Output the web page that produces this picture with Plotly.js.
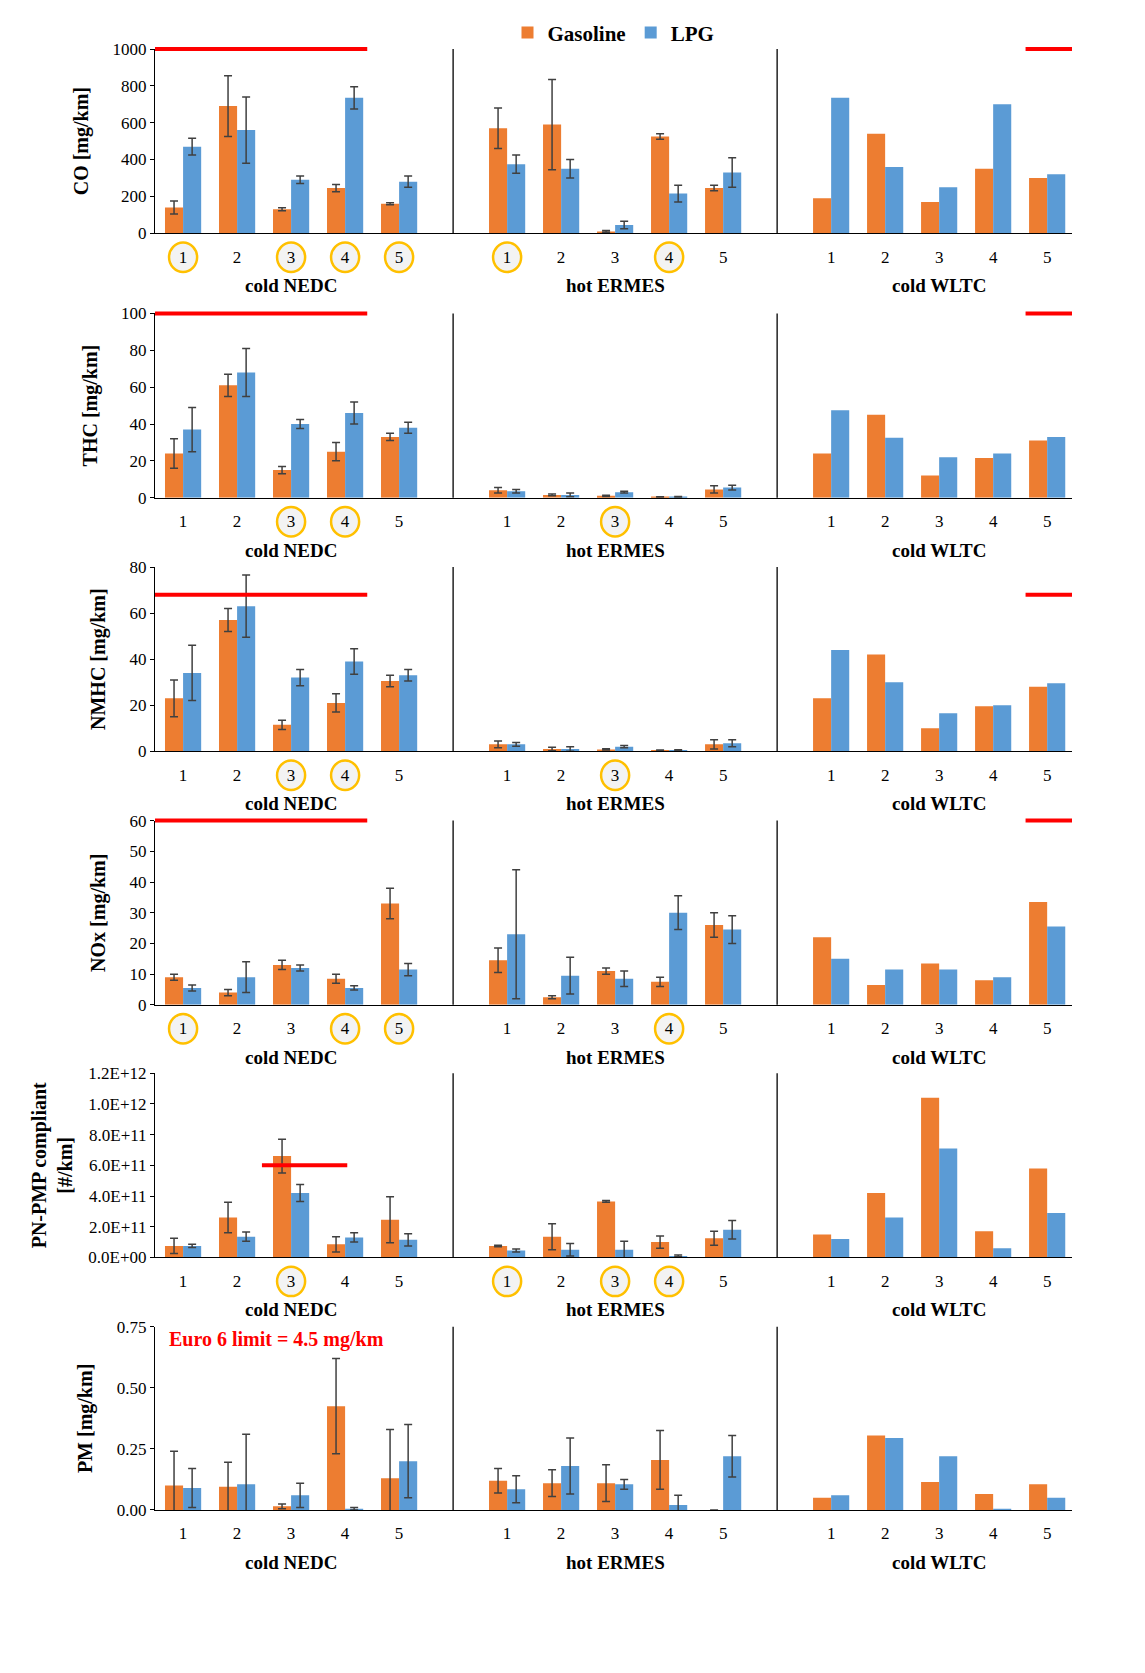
<!DOCTYPE html>
<html><head><meta charset="utf-8">
<script src="https://cdn.plot.ly/plotly-3.0.1.min.js"></script>
<style>body{margin:0;background:#fff}</style>
</head><body>
<div id="plot" style="width:1145px;height:1673px"></div>
<script>
// values: cold NEDC (1-5), hot ERMES (1-5), cold WLTC (1-5)
var vehicles = ['1','2','3','4','5'];
var cycles = ['cold NEDC','hot ERMES','cold WLTC'];

var coGas    = [140,690,130,245,160, 570,590,10,525,245, 190,540,170,350,300];
var coGasErr = [35,165,8,20,5, 110,245,5,15,15];
var coLpg    = [470,560,290,735,280, 375,350,45,215,330, 735,360,250,700,320];
var coLpgErr = [45,180,20,60,30, 50,50,20,45,80];

var thcGas    = [24,61,15,25,33, 4,1.5,1,0.3,4.5, 24,45,12,21.5,31];
var thcGasErr = [8,6,2,5,2, 1.5,0.5,0.3,0.2,2];
var thcLpg    = [37,68,40,46,38, 3.5,1.5,3,0.5,5.5, 47.5,32.5,22,24,33];
var thcLpgErr = [12,13,2.5,6,3, 1,1,0.5,0.2,1.3];

var nmhcGas    = [23,57,11.5,21,30.5, 3,1,0.8,0.3,3, 23,42,10,19.5,28];
var nmhcGasErr = [8,5,2,4,2.5, 1.5,0.8,0.3,0.2,2];
var nmhcLpg    = [34,63,32,39,33, 3,1,2,0.5,3.5, 44,30,16.5,20,29.5];
var nmhcLpgErr = [12,13.5,3.5,5.5,2.5, 0.8,1,0.5,0.2,1.5];

var noxGas    = [9,4,13,8.5,33, 14.5,2.5,11,7.5,26, 22,6.5,13.5,8,33.5];
var noxGasErr = [1,1,1.5,1.5,5, 4,0.5,1,1.5,4];
var noxLpg    = [5.5,9,12,5.5,11.5, 23,9.5,8.5,30,24.5, 15,11.5,11.5,9,25.5];
var noxLpgErr = [1,5,1,0.7,2, 21,6,2.5,5.5,4.5];

var pnGas    = [0.75,2.6,6.6,0.85,2.45, 0.75,1.35,3.65,1.0,1.25, 1.5,4.2,10.4,1.7,5.8].map(function(v){return v*1e11;});
var pnGasErr = [0.5,1,1.1,0.5,1.5, 0.05,0.85,0.05,0.4,0.45].map(function(v){return v*1e11;});
var pnLpg    = [0.75,1.35,4.2,1.3,1.15, 0.45,0.5,0.5,0.1,1.8, 1.2,2.6,7.1,0.6,2.9].map(function(v){return v*1e11;});
var pnLpgErr = [0.1,0.3,0.55,0.3,0.4, 0.1,0.4,0.55,0.05,0.6].map(function(v){return v*1e11;});

var pmGas    = [0.1,0.095,0.015,0.425,0.13, 0.12,0.11,0.11,0.205,0, 0.05,0.305,0.115,0.065,0.105];
var pmGasErr = [0.14,0.1,0.01,0.195,0.2, 0.05,0.055,0.075,0.12,0];
var pmLpg    = [0.09,0.105,0.06,0.005,0.2, 0.085,0.18,0.105,0.02,0.22, 0.06,0.295,0.22,0.005,0.05];
var pmLpgErr = [0.08,0.205,0.05,0.005,0.15, 0.055,0.115,0.02,0.04,0.085];

// circled vehicles per row: [cycleIndex, vehicleIndex]
var circles = [
  [[0,0],[0,2],[0,3],[0,4],[1,0],[1,3]],
  [[0,2],[0,3],[1,2]],
  [[0,2],[0,3],[1,2]],
  [[0,0],[0,3],[0,4],[1,3]],
  [[0,2],[1,0],[1,2],[1,3]],
  []
];

var rows = [
  {title:'CO [mg/km]', g:coGas, ge:coGasErr, l:coLpg, le:coLpgErr, range:[0,1000], dtick:200, limit:1000},
  {title:'THC [mg/km]', g:thcGas, ge:thcGasErr, l:thcLpg, le:thcLpgErr, range:[0,100], dtick:20, limit:100},
  {title:'NMHC [mg/km]', g:nmhcGas, ge:nmhcGasErr, l:nmhcLpg, le:nmhcLpgErr, range:[0,80], dtick:20, limit:68},
  {title:'NOx [mg/km]', g:noxGas, ge:noxGasErr, l:noxLpg, le:noxLpgErr, range:[0,60], dtick:10, limit:60},
  {title:'PN-PMP compliant<br>[#/km]', g:pnGas, ge:pnGasErr, l:pnLpg, le:pnLpgErr, range:[0,1.2e12], dtick:2e11, limit:6e11, pn:true},
  {title:'PM [mg/km]', g:pmGas, ge:pmGasErr, l:pmLpg, le:pmLpgErr, range:[0,0.75], dtick:0.25}
];

var ORANGE = '#ED7D31', BLUE = '#5B9BD5';
var serif = 'Liberation Serif, Times New Roman, serif';
var rowTops = [35,302,558,814,1069,1325], rowH = 186;
var plotH = 1673 - 35 - 163;

var xs = [];
cycles.forEach(function(c, ci){ vehicles.forEach(function(v, vi){ xs.push(ci*6 + vi); }); });
var tickText = [];
cycles.forEach(function(){ vehicles.forEach(function(v){ tickText.push(v); }); });

var traces = [], shapes = [], annotations = [];
var layout = {
  width:1145, height:1673, paper_bgcolor:'#fff', plot_bgcolor:'#fff',
  margin:{l:155, r:73, t:35, b:163},
  barmode:'group', bargap:0.33, bargroupgap:0,
  showlegend:true,
  legend:{orientation:'h', x:0.5, xanchor:'center', y:1.011, yanchor:'middle',
    font:{family:serif, size:21, color:'#000', weight:'bold'}, traceorder:'normal', itemwidth:30},
  font:{family:serif, color:'#000'}
};

rows.forEach(function(r, i){
  var n = i + 1, xa = 'x' + (n>1?n:''), ya = 'y' + (n>1?n:'');
  var top = rowTops[i], bot = top + rowH;
  var d0 = (1673 - 163 - bot)/plotH, d1 = (1673 - 163 - top)/plotH;
  var errStyle = {type:'data', visible:true, color:'#404040', thickness:1.5, width:4};
  var x10 = xs.slice(0,10), xW = xs.slice(10);
  traces.push({type:'bar', x:x10, y:r.g.slice(0,10), name:'Gasoline', marker:{color:ORANGE},
    offsetgroup:'g', legendgroup:'g', showlegend:i===0, xaxis:xa, yaxis:ya,
    error_y:Object.assign({array:r.ge}, errStyle)});
  traces.push({type:'bar', x:x10, y:r.l.slice(0,10), name:'LPG', marker:{color:BLUE},
    offsetgroup:'l', legendgroup:'l', showlegend:i===0, xaxis:xa, yaxis:ya,
    error_y:Object.assign({array:r.le}, errStyle)});
  traces.push({type:'bar', x:xW, y:r.g.slice(10), name:'Gasoline', marker:{color:ORANGE},
    offsetgroup:'g', legendgroup:'g', showlegend:false, xaxis:xa, yaxis:ya});
  traces.push({type:'bar', x:xW, y:r.l.slice(10), name:'LPG', marker:{color:BLUE},
    offsetgroup:'l', legendgroup:'l', showlegend:false, xaxis:xa, yaxis:ya});

  var yax = {domain:[d0,d1], range:r.range, dtick:r.dtick, anchor:xa,
    showline:true, linecolor:'#000', linewidth:1, ticks:'outside', ticklen:4, tickcolor:'#000',
    showgrid:false, zeroline:false, tickfont:{family:serif, size:17, color:'#000'},
    title:{text:'<b>'+r.title+'</b>', font:{family:serif, size:20, color:'#000'}, standoff:i===4?10:18}};
  if (r.pn) {
    yax.tickmode = 'array';
    yax.tickvals = [0,2e11,4e11,6e11,8e11,1e12,1.2e12];
    yax.ticktext = ['0.0E+00','2.0E+11','4.0E+11','6.0E+11','8.0E+11','1.0E+12','1.2E+12'];
  }
  if (i === 5) yax.tickformat = '.2f';
  layout['yaxis'+(n>1?n:'')] = yax;
  layout['xaxis'+(n>1?n:'')] = {domain:[0,1], range:[-0.52,16.46], anchor:ya,
    tickmode:'array', tickvals:xs, ticktext:tickText, ticks:'', ticklabelstandoff:8,
    showgrid:false, zeroline:false,
    showline:true, linecolor:'#000', linewidth:1, tickfont:{family:serif, size:17, color:'#000'}};

  // cycle separators
  [5, 11].forEach(function(sx){
    shapes.push({type:'line', xref:xa, yref:ya+' domain', x0:sx, x1:sx, y0:0, y1:1,
      line:{color:'#000', width:1.3}});
  });
  // cycle titles
  cycles.forEach(function(c, ci){
    annotations.push({xref:xa, yref:ya+' domain', x:ci*6+2, y:-0.285, text:'<b>'+c+'</b>',
      showarrow:false, font:{family:serif, size:19, color:'#000'}, yanchor:'middle'});
  });
  // circled vehicles
  circles[i].forEach(function(cv){
    var cx = cv[0]*6 + cv[1];
    shapes.push({type:'circle', xref:xa, yref:ya+' domain', layer:'below',
      x0:cx-0.26, x1:cx+0.26, y0:-0.21, y1:-0.05,
      line:{color:'#FFC000', width:2.5}, fillcolor:'#f3f3f3'});
  });
  // limit lines (paper y so lines on the frame top are not clipped)
  if (r.limit !== undefined) {
    var py = d0 + (d1 - d0) * (r.limit - r.range[0]) / (r.range[1] - r.range[0]);
    var segs = r.pn ? [[1.46,3.04]] : [[-0.52,3.41],[15.6,16.46]];
    segs.forEach(function(s){
      shapes.push({type:'line', xref:xa, yref:'paper', x0:s[0], x1:s[1], y0:py, y1:py,
        line:{color:'#FF0000', width:4}});
    });
  }
  if (i === 5) {
    annotations.push({xref:xa, yref:ya+' domain', x:-0.3, y:0.93, xanchor:'left', yanchor:'middle',
      text:'<b>Euro 6 limit = 4.5 mg/km</b>', showarrow:false,
      font:{family:serif, size:20, color:'#FF0000'}});
  }
});

layout.shapes = shapes;
layout.annotations = annotations;
Plotly.newPlot('plot', traces, layout, {displayModeBar:false});
</script>
</body></html>
